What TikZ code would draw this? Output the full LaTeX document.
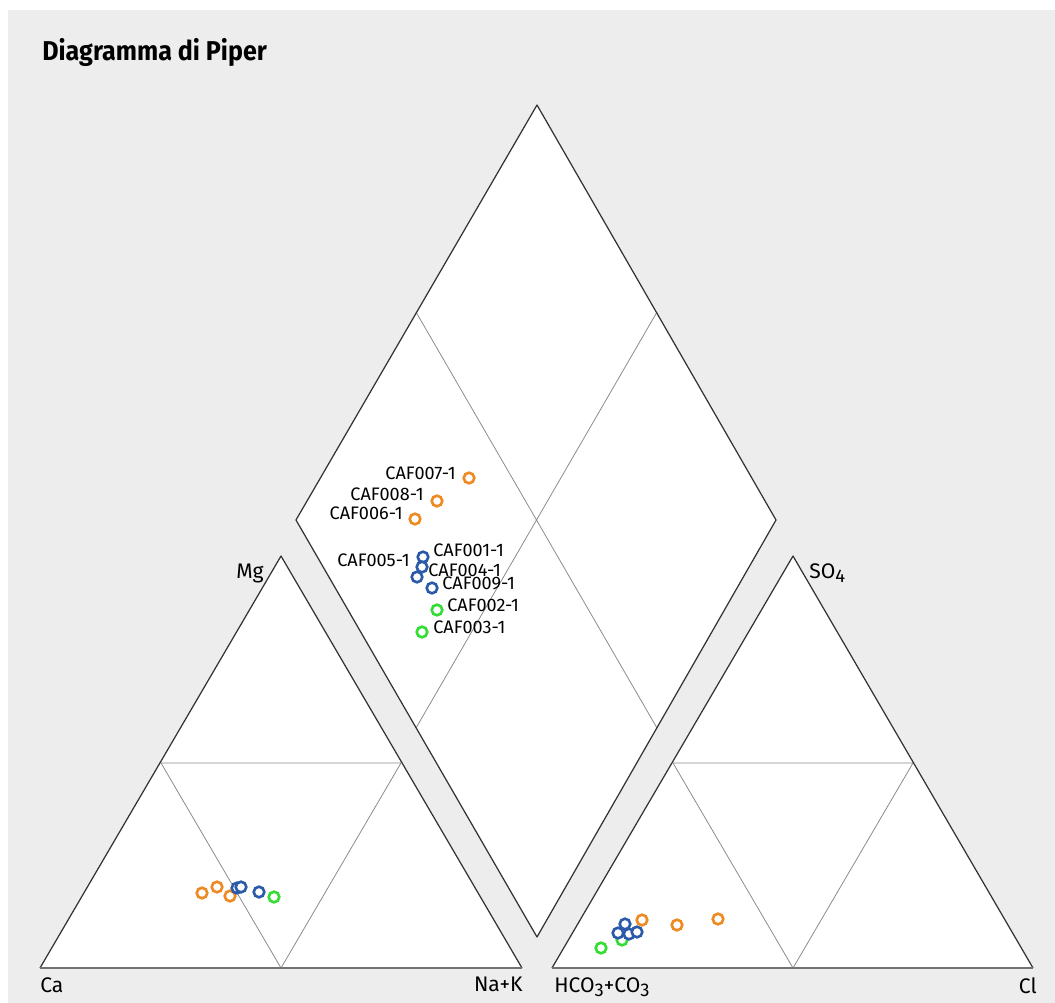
\documentclass[tikz,border=0pt]{standalone}
\usepackage{fontspec}
\setmainfont{Fira Sans}
\definecolor{panel}{HTML}{EDEDED}
\definecolor{ptorange}{HTML}{EE8A22}
\definecolor{ptblue}{HTML}{2B5BA8}
\definecolor{ptgreen}{HTML}{33DD33}
\newcommand{\ionsub}[1]{\raisebox{-0.4ex}{\fontsize{10.5}{12}\selectfont#1}}
\begin{document}
\begin{tikzpicture}[x=0.02cm,y=-0.02cm,
    edge/.style={draw=black!80,line width=0.7pt,line join=round},
    base/.style={draw=black!55,line width=1.6pt},
    grid/.style={draw=black!45,line width=0.45pt},
    ion/.style={font=\fontsize{12}{14}\selectfont,inner sep=0pt},
    lbl/.style={font=\fontsize{10.3}{12}\selectfont,inner sep=0pt},
    po/.style={draw=ptorange,line width=1.5pt,fill=white},
    pb/.style={draw=ptblue,line width=1.5pt,fill=white},
    pg/.style={draw=ptgreen,line width=1.5pt,fill=white}]
  \useasboundingbox (0,0) rectangle (1055,1003);
  \fill[white] (0,0) rectangle (1055,1003);
  \fill[panel] (8,10) rectangle (1055,1003);
  \node[anchor=base west,inner sep=0pt,font=\fontsize{15.5}{18}\selectfont\bfseries] (title) at (42,61) {\scalebox{0.92}[1]{Diagramma di Piper}};
  % vertices
  \coordinate (ca) at (40,968); \coordinate (nak) at (522,968); \coordinate (mg) at (281,556);
  \coordinate (hco) at (552,968); \coordinate (cl) at (1033,968); \coordinate (so) at (793,556);
  \coordinate (dt) at (537,105); \coordinate (dl) at (296,520); \coordinate (dr) at (776,520); \coordinate (db) at (537,937);
  % cation triangle
  \fill[white] (ca)--(nak)--(mg)--cycle;
  \draw[grid] (161,763)--(401,763) (161,763)--(281,968)--(401,763);
  \draw[edge] (nak)--(mg)--(ca);
  \draw[base] (ca)--(nak);
  % anion triangle
  \fill[white] (hco)--(cl)--(so)--cycle;
  \draw[grid] (673,763)--(913,763) (673,763)--(793,968)--(913,763);
  \draw[edge] (cl)--(so)--(hco);
  \draw[base] (hco)--(cl);
  % diamond
  \fill[white] (dt)--(dr)--(db)--(dl)--cycle;
  \draw[grid] (416,312)--(657,728) (657,312)--(416,728);
  \draw[edge] (dt)--(dr)--(db)--(dl)--cycle;
  % axis labels
  \node[ion,anchor=north west] (lca) at (40,977) {Ca};
  \node[ion,anchor=north east] (lnak) at (523,977) {Na+K};
  \node[ion,anchor=north west] (lhco) at (554,977) {HCO\ionsub{3}+CO\ionsub{3}};
  \node[ion,anchor=north east] (lcl) at (1037,977) {Cl};
  \node[ion,anchor=base east] (lmg) at (264,578) {Mg};
  \node[ion,anchor=base west] (lso) at (809,578) {SO\ionsub{4}};
  % cations
  \foreach \x/\y in {202/893,217/887,230/896} \draw[po] (\x,\y) circle (5.3);
  \foreach \x/\y in {237/888,241/887,259/892} \draw[pb] (\x,\y) circle (5.3);
  \draw[pg] (274,897) circle (5.3);
  % anions
  \foreach \x/\y in {601/948,622/940} \draw[pg] (\x,\y) circle (5.3);
  \foreach \x/\y in {618/933,625/924,629/934,637/932} \draw[pb] (\x,\y) circle (5.3);
  \foreach \x/\y in {642/920,677/925,718/919} \draw[po] (\x,\y) circle (5.3);
  % diamond samples
  \draw[po] (469,478) circle (5.3); \node[lbl,anchor=east] (s7) at (456,473) {CAF007-1};
  \draw[po] (437,501) circle (5.3); \node[lbl,anchor=east] (s8) at (424,494) {CAF008-1};
  \draw[po] (415,519) circle (5.3); \node[lbl,anchor=east] (s6) at (403,513) {CAF006-1};
  \draw[pb] (423,557) circle (5.3); \node[lbl,anchor=west] (s1) at (433,550) {CAF001-1};
  \draw[pb] (422,567) circle (5.3); \node[lbl,anchor=east] (s5) at (410,560) {CAF005-1};
  \draw[pb] (417,577) circle (5.3); \node[lbl,anchor=west] (s4) at (428,570) {CAF004-1};
  \draw[pb] (432,588) circle (5.3); \node[lbl,anchor=west] (s9) at (442,583) {CAF009-1};
  \draw[pg] (437,610) circle (5.3); \node[lbl,anchor=west] (s2) at (447,605) {CAF002-1};
  \draw[pg] (422,632) circle (5.3); \node[lbl,anchor=west] (s3) at (433,627) {CAF003-1};
\end{tikzpicture}
\end{document}
